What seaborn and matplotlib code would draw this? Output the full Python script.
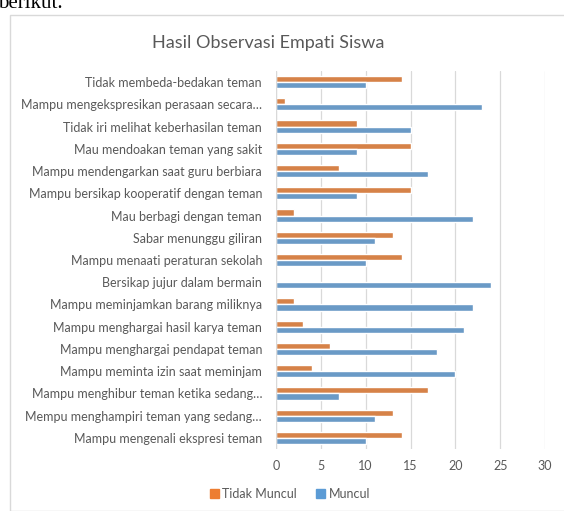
import matplotlib
matplotlib.use("Agg")
import matplotlib.pyplot as plt
import matplotlib.patches as patches
import pandas as pd
import seaborn as sns

# data (top to bottom)
categories = [
    "Tidak membeda-bedakan teman",
    "Mampu mengekspresikan perasaan secara…",
    "Tidak iri melihat keberhasilan teman",
    "Mau mendoakan teman yang sakit",
    "Mampu mendengarkan saat guru berbiara",
    "Mampu bersikap kooperatif dengan teman",
    "Mau berbagi dengan teman",
    "Sabar menunggu giliran",
    "Mampu menaati peraturan sekolah",
    "Bersikap jujur dalam bermain",
    "Mampu meminjamkan barang miliknya",
    "Mampu menghargai hasil karya teman",
    "Mampu menghargai pendapat teman",
    "Mampu meminta izin saat meminjam",
    "Mampu menghibur teman ketika sedang…",
    "Mempu menghampiri teman yang sedang…",
    "Mampu mengenali ekspresi teman",
]
tidak_muncul = [14, 1, 9, 15, 7, 15, 2, 13, 14, 0, 2, 3, 6, 4, 17, 13, 14]
muncul = [10, 23, 15, 9, 17, 9, 22, 11, 10, 24, 22, 21, 18, 20, 7, 11, 10]
series = ["Tidak Muncul", "Muncul"]
colors = ["#ED7D31", "#5B9BD5"]
xticks = [0, 5, 10, 15, 20, 25, 30]

df = pd.DataFrame({
    "kategori": categories * 2,
    "nilai": tidak_muncul + muncul,
    "seri": [series[0]] * len(categories) + [series[1]] * len(categories),
})

sns.set_style("white")
plt.rcParams["font.family"] = ["Lato", "DejaVu Sans"]

fig = plt.figure(figsize=(5.64, 5.11), dpi=100)
ax = fig.add_axes([276 / 564, 1 - 449 / 511, (545 - 276) / 564, (449 - 71) / 511])

sns.barplot(data=df, y="kategori", x="nilai", hue="seri", palette=colors,
            orient="h", width=0.55, ax=ax, legend=False)

ax.set_xlim(0, 30)
ax.set_xticks(xticks)
ax.set_xlabel("")
ax.set_ylabel("")
for s in ax.spines.values():
    s.set_visible(False)
ax.grid(axis="x", color="#D9D9D9", linewidth=0.9)
ax.set_axisbelow(True)
ax.axvline(0, color="#D9D9D9", linewidth=0.9)
ax.tick_params(axis="y", length=0, labelsize=9, colors="#595959", pad=10)
ax.tick_params(axis="x", length=0, labelsize=9, colors="#595959", pad=8)

# chart frame and surrounding text
fig.patches.append(patches.Rectangle((10 / 564, 0), 1, 1 - 15 / 511,
                                     transform=fig.transFigure, fill=False,
                                     edgecolor="#D9D9D9", linewidth=1))
fig.text(268 / 564, 1 - 43 / 511, "Hasil Observasi Empati Siswa",
         ha="center", va="center", fontsize=13, color="#595959")
fig.text(-2 / 564, 1 - 4 / 511, "berikut.", ha="left", va="center",
         fontsize=15, family="Liberation Serif", color="black")

handles = [patches.Patch(color=c, label=l) for c, l in zip(colors, series)]
fig.legend(handles=handles, loc="center", bbox_to_anchor=(290 / 564, 1 - 494 / 511),
           ncol=2, frameon=False, fontsize=9, labelcolor="#595959",
           handlelength=0.7, handleheight=0.7, handletextpad=0.3, columnspacing=1.5)

fig.savefig("out.png", dpi=100)
